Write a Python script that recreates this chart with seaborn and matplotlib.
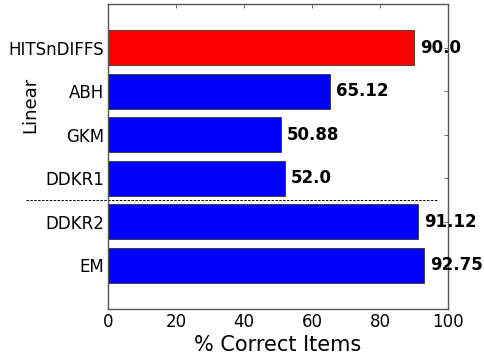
import matplotlib
matplotlib.use("Agg")
import matplotlib.pyplot as plt
import seaborn as sns
import pandas as pd

methods = ["HITSnDIFFS", "ABH", "GKM", "DDKR1", "DDKR2", "EM"]
scores = [90.0, 65.12, 50.88, 52.0, 91.12, 92.75]
bar_colors = ["#ff0000", "#0000ff", "#0000ff", "#0000ff", "#0000ff", "#0000ff"]
x_ticks = [0, 20, 40, 60, 80, 100]

sns.set_style("white")
plt.rcParams["font.family"] = ["DejaVu Sans"]
plt.rcParams.update({
    "text.color": "black",
    "axes.labelcolor": "black",
    "xtick.labelcolor": "black",
    "ytick.labelcolor": "black",
})

df = pd.DataFrame({"method": methods, "score": scores})

fig = plt.figure(figsize=(4.84, 3.6), dpi=100)
ax = fig.add_axes([0.223, 0.142, 0.703, 0.847])

sns.barplot(data=df, y="method", x="score", hue="method",
            palette=bar_colors, saturation=1, orient="h", width=0.8,
            edgecolor="#333333", linewidth=0.6, legend=False, ax=ax)

for i, v in enumerate(scores):
    ax.text(v + 1.8, i, f"{v}", va="center", ha="left",
            fontsize=12, fontweight="bold", color="black")

# separator between the two groups of methods
ax.plot([-24, 97], [3.5, 3.5], linestyle="--", color="black",
        linewidth=0.7, dashes=(2.5, 1.5), clip_on=False)

ax.set_xlim(0, 100)
ax.set_ylim(5 + 1, -1)
ax.set_xticks(x_ticks)
ax.set_xticklabels([str(t) for t in x_ticks])
ax.tick_params(axis="both", direction="in", length=3, width=0.6,
               top=True, right=True, labelsize=12, color="#555555", pad=3)
ax.set_xlabel("% Correct Items", fontsize=15, labelpad=3)
ax.set_ylabel("Linear", fontsize=13)
ax.yaxis.set_label_coords(-0.203, 0.67)

for s in ax.spines.values():
    s.set_color("#555555")
    s.set_linewidth(1.0)

fig.savefig("out.png", dpi=100)
